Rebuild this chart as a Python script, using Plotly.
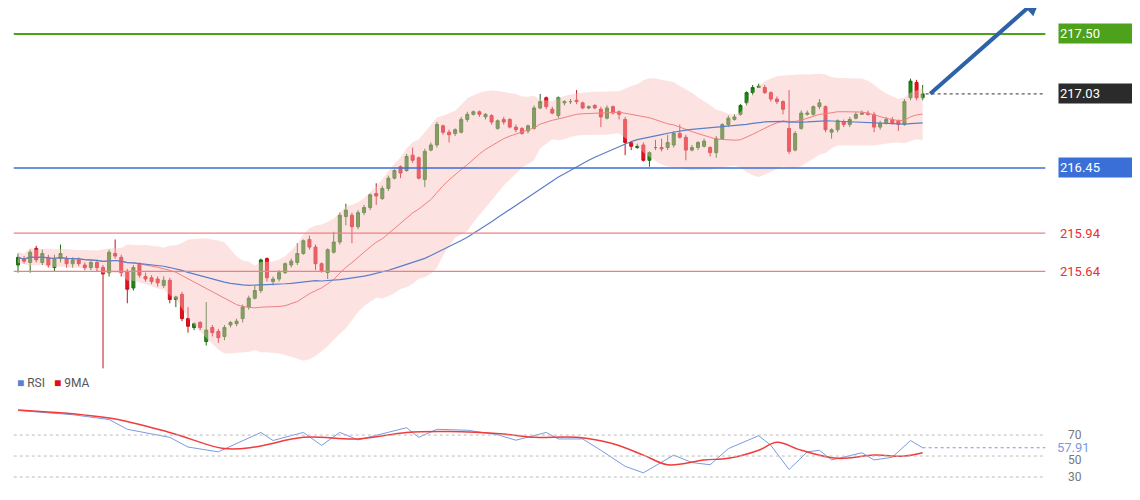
import plotly.graph_objects as go
import pandas as pd

opens = [215.69,215.74,215.71,215.82,215.71,215.75,215.67,215.74,215.74,215.70,215.73,215.69,215.67,215.71,215.67,215.63,215.78,215.75,215.64,215.51,
 215.70,215.60,215.59,215.58,215.53,215.57,215.42,215.46,215.27,215.20,215.24,215.09,215.20,215.17,215.13,215.22,215.23,215.27,215.36,215.43,
 215.49,215.74,215.56,215.58,215.63,215.69,215.71,215.78,215.89,215.83,215.70,215.63,215.79,215.87,216.07,216.08,215.99,216.10,216.14,216.25,
 216.21,216.29,216.37,216.46,216.43,216.55,216.53,216.36,216.59,216.63,216.78,216.73,216.72,216.73,216.83,216.87,216.89,
 216.85,216.86,216.76,216.83,216.83,216.77,216.76,216.74,216.76,216.92,217.00,216.91,216.86,216.96,216.97,216.98,216.96,216.92,216.94,216.91,
 216.84,216.93,216.89,216.83,216.65,216.61,216.63,216.51,216.61,216.61,216.61,216.63,216.72,216.69,216.59,216.61,216.62,216.61,
 216.57,216.68,216.79,216.83,216.87,216.96,217.04,217.08,217.08,217.04,216.99,216.97,216.76,216.59,216.76,216.87,216.87,216.93,216.93,216.73,
 216.75,216.81,216.79,216.84,216.87,216.88,216.87,216.77,216.80,216.83,216.82,216.79,217.00,217.12,217.00]
closes = [215.75,215.72,215.79,215.73,215.78,215.69,215.74,215.78,215.70,215.73,215.70,215.67,215.71,215.67,215.62,215.79,215.76,215.63,215.50,215.67,
 215.61,215.58,215.56,215.55,215.57,215.42,215.44,215.27,215.21,215.23,215.20,215.18,215.16,215.12,215.20,215.24,215.25,215.36,215.43,215.49,
 215.73,215.59,215.58,215.63,215.70,215.72,215.78,215.88,215.83,215.70,215.64,215.81,215.87,216.08,216.12,215.99,216.10,216.14,216.24,216.23,
 216.29,216.37,216.43,216.41,216.54,216.51,216.37,216.58,216.63,216.79,216.73,216.71,216.75,216.83,216.87,216.89,216.87,
 216.87,216.81,216.82,216.81,216.77,216.75,216.72,216.78,216.92,216.97,216.93,216.88,217.00,216.97,216.97,216.97,216.92,216.93,216.92,216.85,
 216.92,216.88,216.87,216.65,216.62,216.62,216.51,216.57,216.61,216.60,216.65,216.72,216.69,216.59,216.61,216.65,216.66,216.57,
 216.68,216.79,216.84,216.85,216.94,217.04,217.08,217.09,217.04,216.99,216.97,216.91,216.58,216.72,216.88,216.88,216.93,216.96,216.75,216.75,
 216.82,216.79,216.83,216.87,216.88,216.87,216.77,216.80,216.83,216.80,216.79,216.97,217.13,217.00,217.03]
highs = [215.78,215.76,215.81,215.84,215.81,215.77,215.77,215.85,215.76,215.75,215.75,215.71,215.72,215.73,215.69,215.81,215.89,215.77,215.66,215.69,
 215.71,215.63,215.61,215.60,215.60,215.59,215.45,215.48,215.36,215.24,215.25,215.40,215.22,215.19,215.22,215.25,215.27,215.38,215.45,215.53,
 215.74,215.75,215.60,215.65,215.71,215.74,215.86,215.89,215.92,215.85,215.71,215.82,215.95,216.10,216.17,216.10,216.12,216.16,216.25,216.33,
 216.31,216.39,216.44,216.47,216.56,216.61,216.54,216.60,216.65,216.81,216.79,216.75,216.76,216.85,216.89,216.90,216.90,
 216.88,216.87,216.83,216.85,216.84,216.79,216.77,216.79,216.94,217.03,217.01,216.93,217.01,216.98,216.99,217.06,216.97,216.94,216.95,216.93,
 216.94,216.94,216.90,216.85,216.66,216.64,216.65,216.58,216.67,216.68,216.71,216.74,216.79,216.71,216.63,216.66,216.68,216.62,
 216.70,216.80,216.86,216.87,216.95,217.05,217.10,217.11,217.10,217.05,217.01,216.98,217.06,216.74,216.90,216.90,216.94,216.99,216.94,216.76,
 216.83,216.83,216.85,216.89,216.90,216.90,216.89,216.82,216.85,216.85,216.83,216.99,217.15,217.14,217.10]
lows = [215.63,215.70,215.63,215.71,215.69,215.67,215.64,215.71,215.67,215.67,215.68,215.65,215.65,215.64,214.88,215.60,215.74,215.60,215.39,215.49,
 215.59,215.56,215.54,215.52,215.51,215.39,215.36,215.25,215.16,215.18,215.18,215.06,215.13,215.08,215.10,215.20,215.21,215.24,215.34,215.42,
 215.47,215.56,215.53,215.56,215.62,215.67,215.69,215.77,215.81,215.65,215.63,215.58,215.78,215.85,216.00,215.86,215.97,216.08,216.12,216.16,
 216.20,216.27,216.36,216.37,216.42,216.49,216.36,216.30,216.58,216.61,216.71,216.65,216.70,216.72,216.81,216.86,216.85,
 216.83,216.79,216.75,216.79,216.76,216.73,216.71,216.72,216.75,216.91,216.91,216.87,216.84,216.94,216.95,216.95,216.91,216.91,216.91,216.77,
 216.83,216.87,216.83,216.55,216.59,216.60,216.50,216.46,216.59,216.58,216.59,216.61,216.68,216.51,216.58,216.59,216.61,216.54,
 216.53,216.67,216.77,216.82,216.86,216.94,217.02,217.08,217.03,216.97,216.95,216.87,216.56,216.58,216.75,216.86,216.86,216.91,216.73,216.68,
 216.73,216.77,216.77,216.83,216.87,216.86,216.73,216.75,216.79,216.79,216.74,216.78,216.98,216.98,216.98]

rsi_x = [0,9,15,18,25,28,33,37,40,42,47,50,53,56,60,64,66,69,74,79,82,87,89,93,96,100,103,108,111,114,117,122,124,127,130,132,134,139,141,144,147,149]
rsi_v = [93.4,89.4,84.8,75.5,67.8,58.6,54.0,64.8,72.5,64.8,72.5,60.2,72.5,65.4,70.9,77.0,67.8,75.5,74.6,70.3,65.1,72.5,66.3,66.3,55.5,40.2,34.0,50.9,43.8,41.7,57.1,69.4,60.2,37.1,54.0,55.5,46.3,53.1,46.3,48.8,64.8,57.9]
ma9_x = [0,15,25,34,39,47,56,64,71,80,85,92,98,103,107,113,117,122,125,129,135,141,146,149]
ma9_v = [94.0,86.3,72.5,57.1,58.6,67.8,66.3,72.5,73.4,70.9,67.8,67.8,61.7,50.9,41.7,46.3,47.8,55.5,63.2,55.5,47.8,50.9,50.0,53.1]

levels = [217.50, 217.03, 216.45, 215.94, 215.64]
level_labels = ["217.50", "217.03", "216.45", "215.94", "215.64"]
rsi_ticks = [70, 50, 30]
rsi_last = "57.91"

n = len(closes)
idx = list(range(n))
s = pd.Series(closes)
ma20 = s.rolling(20, min_periods=1).mean()
sd20 = s.rolling(20, min_periods=2).std().bfill()
up = ma20 + 2 * sd20
lo = ma20 - 2 * sd20
ma50 = s.rolling(50, min_periods=1).mean()

fig = go.Figure()
fig.add_trace(go.Scatter(x=idx, y=up, mode="lines", line=dict(width=0), hoverinfo="skip", showlegend=False))
fig.add_trace(go.Scatter(x=idx, y=lo, mode="lines", line=dict(width=0), fill="tonexty",
                         fillcolor="rgba(250,190,190,0.45)", hoverinfo="skip", showlegend=False))
fig.add_trace(go.Scatter(x=idx, y=ma20, mode="lines", line=dict(color="#f08080", width=1), showlegend=False))
fig.add_trace(go.Scatter(x=idx, y=ma50, mode="lines", line=dict(color="#5b7fc7", width=1.2), showlegend=False))
fig.add_trace(go.Candlestick(x=idx, open=opens, high=highs, low=lows, close=closes,
    increasing=dict(line=dict(color="#1a6e10", width=1), fillcolor="#1f8a14"),
    decreasing=dict(line=dict(color="#c8101a", width=1), fillcolor="#ee0d18"),
    whiskerwidth=0, showlegend=False))

xl0, xl1 = -0.7, 169.2
lcol = {0: ("#4ea11a", 2), 2: ("#3a6fd8", 1.5), 3: ("#f08080", 1.2), 4: ("#f08080", 1.2)}
for i, (c, w) in lcol.items():
    fig.add_shape(type="line", x0=xl0, x1=xl1, y0=levels[i], y1=levels[i], line=dict(color=c, width=w))
fig.add_shape(type="line", x0=n - 0.5, x1=xl1, y0=levels[1], y1=levels[1], line=dict(color="#333", width=1, dash="dot"))

boxes = {0: "#4ea11a", 1: "#2b2b2b", 2: "#3a6fd8"}
for i, lab in enumerate(level_labels):
    if i in boxes:
        fig.add_annotation(x=1.0, xref="paper", xanchor="right", y=levels[i], yref="y", text=lab,
                           showarrow=False, font=dict(color="white", size=13, family="Roboto"),
                           bgcolor=boxes[i], width=78, height=17, align="left", borderpad=1)
    else:
        fig.add_annotation(x=0.928, xref="paper", xanchor="left", y=levels[i], yref="y", text=lab,
                           showarrow=False, font=dict(color="#e83030", size=13, family="Roboto"))

fig.add_annotation(x=168.6, y=217.80, ax=n, ay=217.02, xref="x", yref="y", axref="x", ayref="y",
                   showarrow=True, arrowhead=2, arrowsize=1, arrowwidth=4, arrowcolor="#2d62a8", text="")

# RSI panel
fig.add_trace(go.Scatter(x=rsi_x, y=rsi_v, mode="lines", line=dict(color="#7b9be0", width=1), xaxis="x", yaxis="y2", showlegend=False))
fig.add_trace(go.Scatter(x=ma9_x, y=ma9_v, mode="lines", line=dict(color="#f03c3c", width=1.5, shape="spline"), xaxis="x", yaxis="y2", showlegend=False))
for t in rsi_ticks:
    fig.add_shape(type="line", x0=xl0, x1=xl1, y0=t, y1=t, yref="y2", line=dict(color="#bbb", width=1, dash="dot"))
    fig.add_annotation(x=0.935, xref="paper", xanchor="left", y=t - (4 if t == 50 else 0), yref="y2", text=str(t), showarrow=False,
                       font=dict(color="#777", size=12, family="Roboto"))
fig.add_shape(type="line", x0=n - 1, x1=xl1, y0=57.91, y1=57.91, yref="y2", line=dict(color="#7b9be0", width=1, dash="dot"))
fig.add_annotation(x=0.925, xref="paper", xanchor="left", y=58.5, yref="y2", text=rsi_last, showarrow=False,
                   font=dict(color="#7b9be0", size=13, family="Roboto"))
fig.add_annotation(x=0.006, xref="paper", xanchor="left", y=1 - 384 / 492, yref="paper",
                   text="<span style='color:#5b7fd8'>■</span> RSI   <span style='color:#e01010'>■</span> 9MA",
                   showarrow=False, font=dict(color="#555", size=12, family="Roboto"))

fig.update_layout(
    width=1132, height=492, margin=dict(l=0, r=0, t=0, b=0),
    paper_bgcolor="white", plot_bgcolor="white",
    xaxis=dict(range=[-1.65, 184.8], visible=False, rangeslider=dict(visible=False)),
    yaxis=dict(range=[214.828, 217.703], domain=[0.254, 1], visible=False),
    yaxis2=dict(range=[8.1, 103.3], domain=[0, 0.203], visible=False),
)
fig.write_html("out.html")
